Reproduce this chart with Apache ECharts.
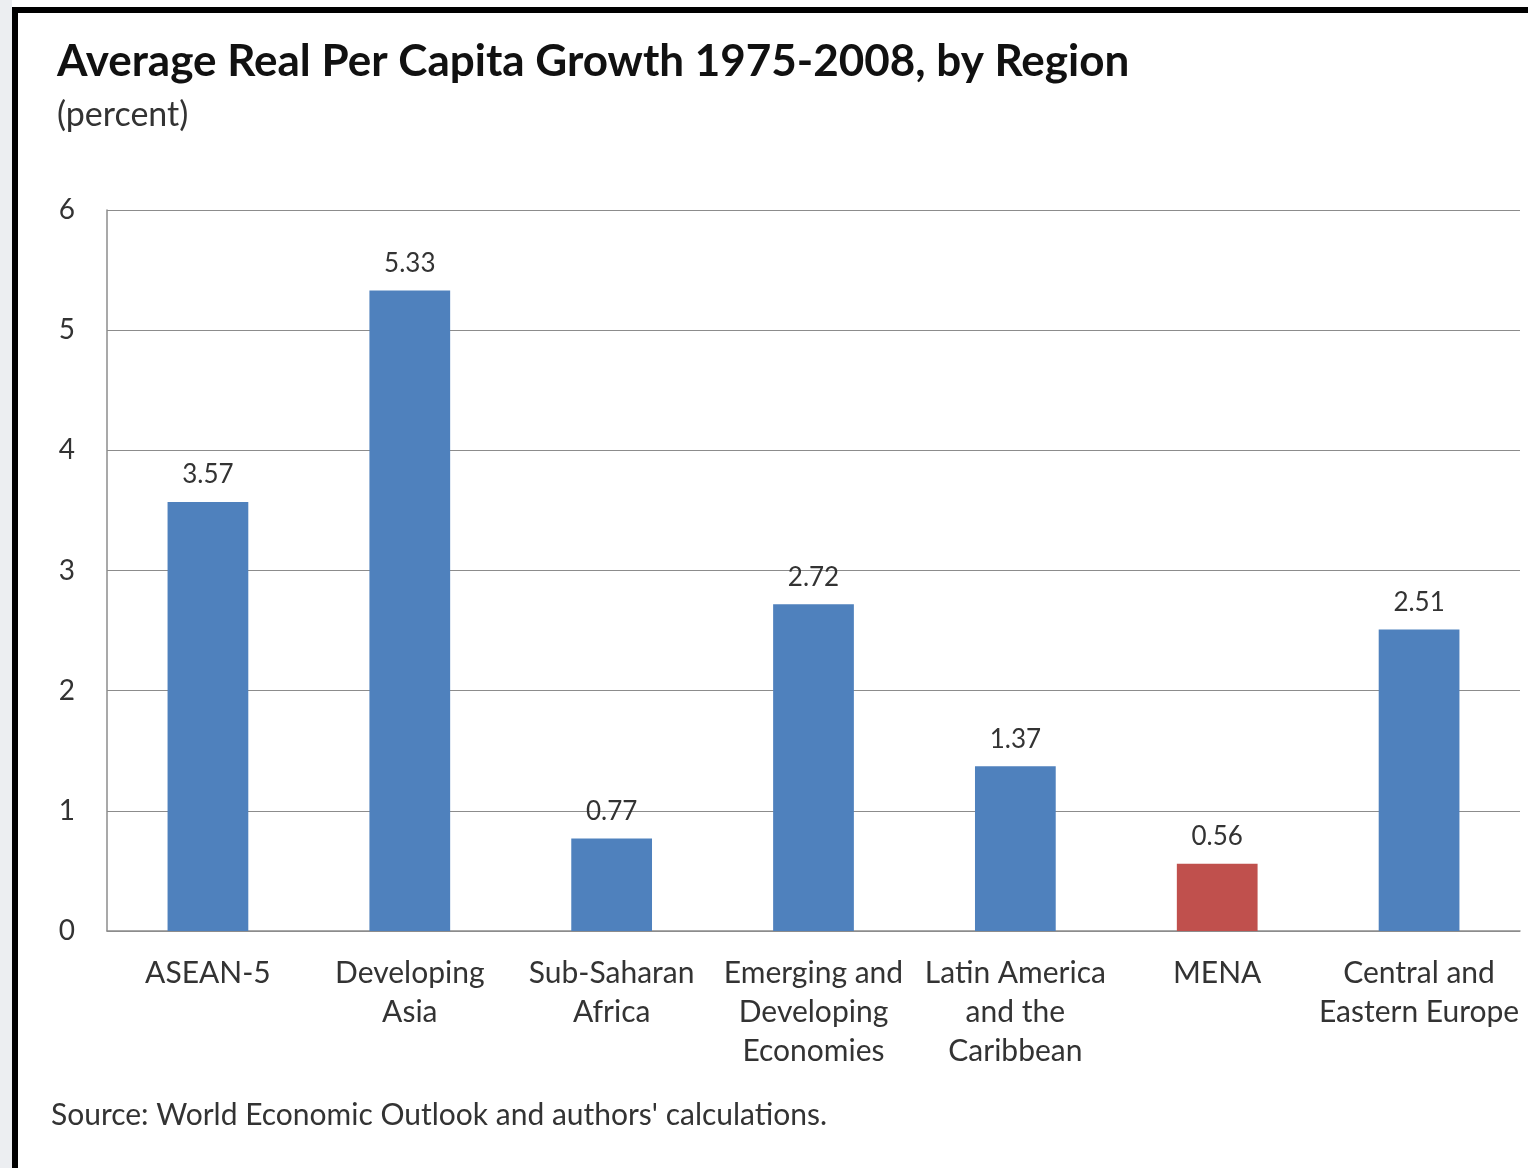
<!DOCTYPE html>
<html>
<head>
<meta charset="utf-8">
<title>Average Real Per Capita Growth 1975-2008, by Region</title>
<script src="https://cdn.jsdelivr.net/npm/echarts@6/dist/echarts.min.js"></script>
<style>
  html, body { margin: 0; padding: 0; background: #ffffff; }
  #chart { width: 1528px; height: 1168px; }
</style>
</head>
<body>
<div id="chart"></div>
<script>
// Regions (line breaks as shown under each bar)
const regions = [
  'ASEAN-5',
  'Developing\nAsia',
  'Sub-Saharan\nAfrica',
  'Emerging and\nDeveloping\nEconomies',
  'Latin America\nand the\nCaribbean',
  'MENA',
  'Central and\nEastern Europe'
];
// Average real per capita growth, percent
const growth = [3.57, 5.33, 0.77, 2.72, 1.37, 0.56, 2.51];
const barColors = ['#4F81BD', '#4F81BD', '#4F81BD', '#4F81BD', '#4F81BD', '#C0504D', '#4F81BD'];
const yTicks = [0, 1, 2, 3, 4, 5, 6];

const titleText = 'Average Real Per Capita Growth 1975-2008, by Region';
const subtitleText = '(percent)';
const sourceText = "Source: World Economic Outlook and authors' calculations.";

const chart = echarts.init(document.getElementById('chart'), null, { renderer: 'canvas' });

const FONT = 'Lato, "Open Sans", sans-serif';

chart.setOption({
  backgroundColor: '#ffffff',
  animation: false,
  title: {
    text: titleText,
    subtext: subtitleText,
    left: 52,
    top: 35,
    itemGap: 14,
    textStyle: { fontFamily: FONT, fontWeight: 'bold', fontSize: 44, color: '#111' },
    subtextStyle: { fontFamily: FONT, fontSize: 34, color: '#333' }
  },
  graphic: [
    { type: 'rect', left: 0, top: 0, shape: { width: 12, height: 1168 }, style: { fill: '#eceef1' }, silent: true },
    { type: 'rect', shape: { x: 15, y: 10, width: 1600, height: 1300 }, style: { fill: 'none', stroke: '#000', lineWidth: 6 }, silent: true },
    { type: 'text', left: 51, top: 1100, style: { text: sourceText, font: '30px ' + FONT, fill: '#333' } }
  ],
  grid: { left: 107, top: 210, right: 8, bottom: 237, containLabel: false },
  xAxis: {
    type: 'category',
    data: regions,
    axisLine: { show: true, lineStyle: { color: '#8c8c8c', width: 1.5 } },
    axisTick: { show: false },
    axisLabel: {
      interval: 0,
      margin: 23,
      fontFamily: FONT,
      fontSize: 30,
      lineHeight: 39,
      color: '#333'
    }
  },
  yAxis: {
    type: 'value',
    min: yTicks[0],
    max: yTicks[yTicks.length - 1],
    interval: 1,
    axisLine: { show: true, lineStyle: { color: '#8c8c8c', width: 1.5 } },
    axisTick: { show: false },
    axisLabel: { margin: 32, fontFamily: FONT, fontSize: 28, color: '#333' },
    splitLine: { show: true, lineStyle: { color: '#8c8c8c', width: 1.2 } }
  },
  series: [{
    type: 'bar',
    barWidth: '40%',
    data: growth.map((v, i) => ({ value: v, itemStyle: { color: barColors[i] } })),
    label: {
      show: true,
      position: 'top',
      distance: 14,
      fontFamily: FONT,
      fontSize: 26,
      color: '#333',
      formatter: p => p.value.toFixed(2)
    }
  }]
});
</script>
</body>
</html>
